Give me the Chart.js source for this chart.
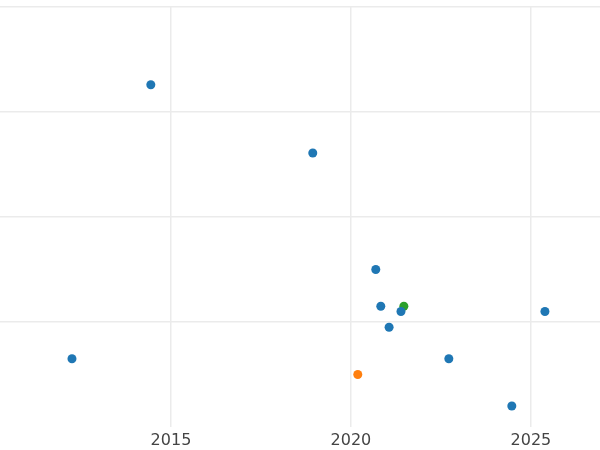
<!DOCTYPE html>
<html>
<head>
<meta charset="utf-8">
<script src="https://cdn.jsdelivr.net/npm/chart.js@4/dist/chart.umd.min.js"></script>
<style>
  html, body { margin: 0; padding: 0; background: #fff; }
  #wrap { width: 600px; height: 450px; }
</style>
</head>
<body>
<div id="wrap"><canvas id="chart"></canvas></div>
<script>
const blueX = [2014.44, 2018.94, 2020.69, 2020.83, 2021.39, 2021.06, 2025.39, 2012.25, 2022.72, 2024.47];
const blueY = [3.26, 2.61, 1.50, 1.15, 1.10, 0.95, 1.10, 0.65, 0.65, 0.20];
const greenX = [2021.47];
const greenY = [1.15];
const orangeX = [2020.19];
const orangeY = [0.50];
const xTicks = [2015, 2020, 2025];

function pts(xs, ys) {
    return xs.map((x, i) => ({x: x, y: ys[i]}));
}

const ctx = document.getElementById('chart').getContext('2d');
new Chart(ctx, {
    type: 'scatter',
    data: {
        datasets: [
            {data: pts(blueX, blueY), backgroundColor: '#1f77b4', borderColor: '#1f77b4'},
            {data: pts(greenX, greenY), backgroundColor: '#2ca02c', borderColor: '#2ca02c'},
            {data: pts(orangeX, orangeY), backgroundColor: '#ff7f0e', borderColor: '#ff7f0e'}
        ]
    },
    options: {
        responsive: true,
        maintainAspectRatio: false,
        animation: false,
        layout: {autoPadding: false, padding: {top: 7, left: 0, right: 0, bottom: 0}},
        elements: {point: {radius: 4.5, hoverRadius: 4.5, borderWidth: 0}},
        plugins: {legend: {display: false}, tooltip: {enabled: false}},
        scales: {
            x: {
                type: 'linear',
                min: 2010.25,
                max: 2026.92,
                afterBuildTicks: (axis) => { axis.ticks = xTicks.map(v => ({value: v})); },
                afterFit: (axis) => { axis.height = 23; },
                grid: {color: '#ebebeb', lineWidth: 1.5, drawTicks: false},
                border: {display: false},
                ticks: {color: '#444', padding: 4, font: {family: 'DejaVu Sans', size: 16},
                        callback: (v) => String(v)}
            },
            y: {
                min: 0,
                max: 4,
                afterFit: (axis) => { axis.width = 0; },
                ticks: {display: false, stepSize: 1},
                grid: {color: (c) => c.tick.value === 0 ? 'rgba(0,0,0,0)' : '#ebebeb', lineWidth: 1.5, drawTicks: false},
                border: {display: false}
            }
        }
    }
});
</script>
</body>
</html>
